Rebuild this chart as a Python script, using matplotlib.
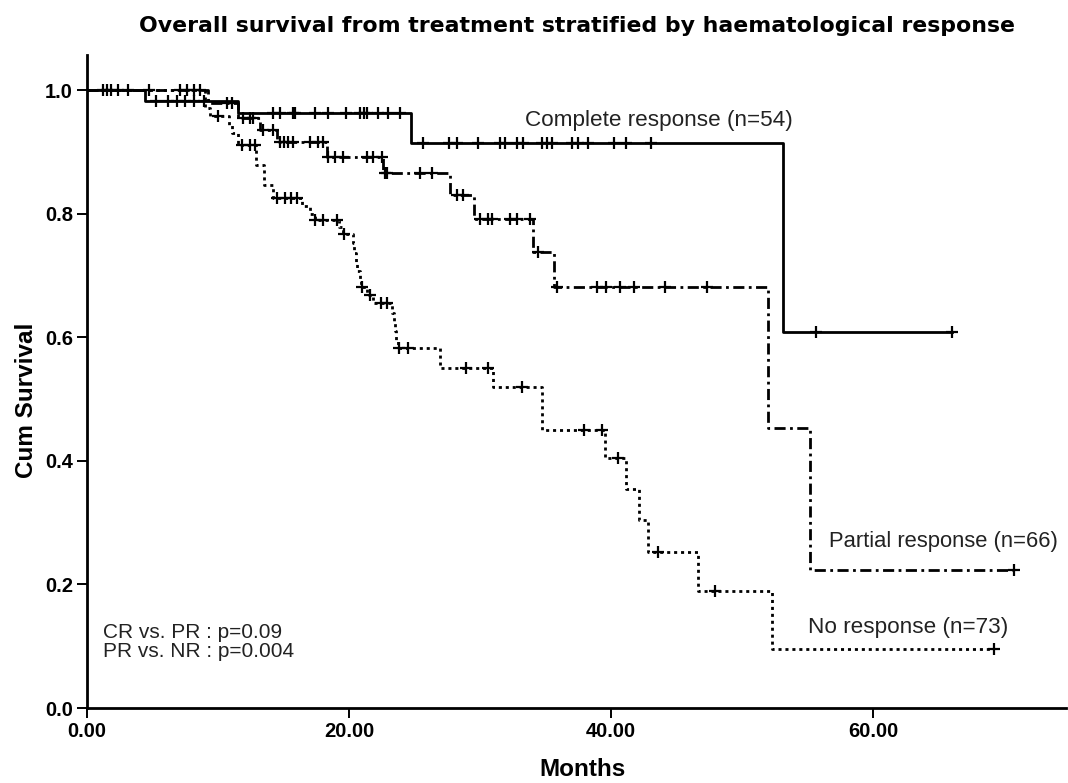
import numpy as np
import matplotlib
matplotlib.use("Agg")
import matplotlib.pyplot as plt

# Kaplan-Meier steps (months, survival after the step)
cr_steps_t = [4.4, 11.5, 24.7, 53.1]
cr_steps_s = [0.982, 0.963, 0.915, 0.608]
cr_end = 66.0
cr_censor = [1.2, 1.5, 1.8, 2.4, 3.1,
             5.3, 6.2, 6.9, 7.5, 8.2, 8.9,
             14.2, 14.7, 15.7, 15.9, 17.4, 18.4, 19.8, 20.8, 21.1, 21.4, 22.2, 23.0, 23.9,
             25.6, 27.6, 28.2, 29.8, 31.5, 31.9, 32.8, 33.3, 34.7, 35.1, 35.5, 37.0, 37.5,
             38.2, 40.2, 41.1, 43.0,
             55.6, 66.0]

pr_steps_t = [9.2, 11.5, 13.2, 14.5, 18.3, 22.6, 27.7, 29.5, 34.0, 35.6, 52.0, 55.2]
pr_steps_s = [0.979, 0.955, 0.935, 0.916, 0.892, 0.866, 0.830, 0.791, 0.738, 0.681, 0.453, 0.223]
pr_end = 70.7
pr_censor = [4.7, 7.1, 7.6, 8.2, 8.6,
             10.7, 11.1, 11.9, 12.4, 12.7, 13.4, 14.2,
             14.7, 15.0, 15.3, 15.7, 17.0, 17.6, 18.0,
             18.4, 18.9, 19.5, 21.4, 21.8, 22.5,
             22.7, 22.9, 25.4, 26.3, 28.2, 28.7,
             30.0, 30.6, 30.9, 32.3, 32.8, 33.8, 34.4,
             35.9, 38.9, 39.6, 40.7, 41.7, 44.1, 47.3, 70.7]

nr_steps_t = [9.0, 9.4, 10.8, 11.1, 11.5, 12.9, 13.5, 14.2, 16.4, 17.0, 17.4,
              19.2, 19.5, 20.3, 20.4, 20.5, 20.6, 20.8, 20.9, 21.4, 21.8,
              23.3, 23.4, 23.5, 23.6, 23.7, 26.9, 31.0, 34.7, 39.5, 41.1, 42.1,
              42.8, 46.6, 52.3]
nr_steps_s = [0.972, 0.958, 0.944, 0.930, 0.912, 0.879, 0.846, 0.825, 0.812, 0.800, 0.790,
              0.779, 0.768, 0.752, 0.737, 0.722, 0.707, 0.693, 0.681, 0.668, 0.655,
              0.640, 0.625, 0.610, 0.596, 0.582, 0.551, 0.519, 0.450, 0.405, 0.354, 0.305,
              0.252, 0.190, 0.095]
nr_end = 69.2
nr_censor = [10.0, 11.8, 12.4, 12.8, 14.5, 15.1, 15.6, 16.0, 17.4, 18.0, 19.1, 19.6,
             21.0, 21.6, 22.4, 22.9, 23.8, 24.5, 28.9, 30.6, 33.2, 37.9, 39.3, 40.5,
             43.6, 47.9, 69.2]

labels = ["Complete response (n=54)", "Partial response (n=66)", "No response (n=73)"]
pvals = ["CR vs. PR : p=0.09", "PR vs. NR : p=0.004"]


def step_curve(steps_t, steps_s, end):
    t = np.concatenate([[0.0], steps_t, [end]])
    s = np.concatenate([[1.0], steps_s, [steps_s[-1]]])
    return t, s


def surv_at(times, steps_t, steps_s):
    levels = np.concatenate([[1.0], steps_s])
    idx = np.searchsorted(steps_t, times, side="right")
    return levels[idx]


fig = plt.figure(figsize=(10.68, 7.83), dpi=100)
ax = fig.add_axes([87 / 1068, 75 / 783, 979 / 1068, 653 / 783])

lw = 2.0
curves = [
    (cr_steps_t, cr_steps_s, cr_end, cr_censor, "-"),
    (pr_steps_t, pr_steps_s, pr_end, pr_censor, (0, (4, 1.6, 1, 1.6))),
    (nr_steps_t, nr_steps_s, nr_end, nr_censor, (0, (1.1, 1.4))),
]
for st, ss, end, cens, ls in curves:
    t, s = step_curve(st, ss, end)
    ax.step(t, s, where="post", color="black", lw=lw, linestyle=ls)
    c = np.array(cens)
    ax.plot(c, surv_at(c, st, ss), "+", color="black", ms=9, mew=1.6)

# text on the plot
tfont = dict(family=["Liberation Sans", "DejaVu Sans"], color="#222222")
ax.text(33.4, 0.951, labels[0], fontsize=16.2, ha="left", va="center", **tfont)
ax.text(56.6, 0.269, labels[1], fontsize=15.8, ha="left", va="center", **tfont)
ax.text(55.0, 0.131, labels[2], fontsize=16.2, ha="left", va="center", **tfont)
ax.text(1.2, 0.123, pvals[0], fontsize=15, ha="left", va="center", **tfont)
ax.text(1.2, 0.091, pvals[1], fontsize=15, ha="left", va="center", **tfont)

ax.set_xlim(0, 74.7)
ax.set_ylim(0, 1.057)
ax.set_xticks([0, 20, 40, 60])
ax.set_xticklabels(["0.00", "20.00", "40.00", "60.00"])
ax.set_yticks([0, 0.2, 0.4, 0.6, 0.8, 1.0])
ax.set_yticklabels(["0.0", "0.2", "0.4", "0.6", "0.8", "1.0"])

for side in ["top", "right"]:
    ax.spines[side].set_visible(False)
for side in ["left", "bottom"]:
    ax.spines[side].set_linewidth(2.0)
ax.tick_params(length=7, width=1.4, direction="out", pad=3)
for lab in ax.get_xticklabels() + ax.get_yticklabels():
    lab.set_fontfamily(["Liberation Sans", "DejaVu Sans"])
    lab.set_fontweight("bold")
    lab.set_fontsize(14.5)

lfont = dict(family=["Liberation Sans", "DejaVu Sans"], fontweight="bold", fontsize=17.5)
fig.text(583 / 1068, 1 - 770 / 783, "Months", ha="center", va="center", **lfont)
fig.text(27 / 1068, 1 - 400 / 783, "Cum Survival", ha="center", va="center",
         rotation=90, **lfont)
fig.text(577 / 1068, 1 - 26 / 783,
         "Overall survival from treatment stratified by haematological response",
         ha="center", va="center", family=["DejaVu Sans"], fontweight="bold",
         fontsize=15.8)

fig.savefig("out.png", dpi=100)
